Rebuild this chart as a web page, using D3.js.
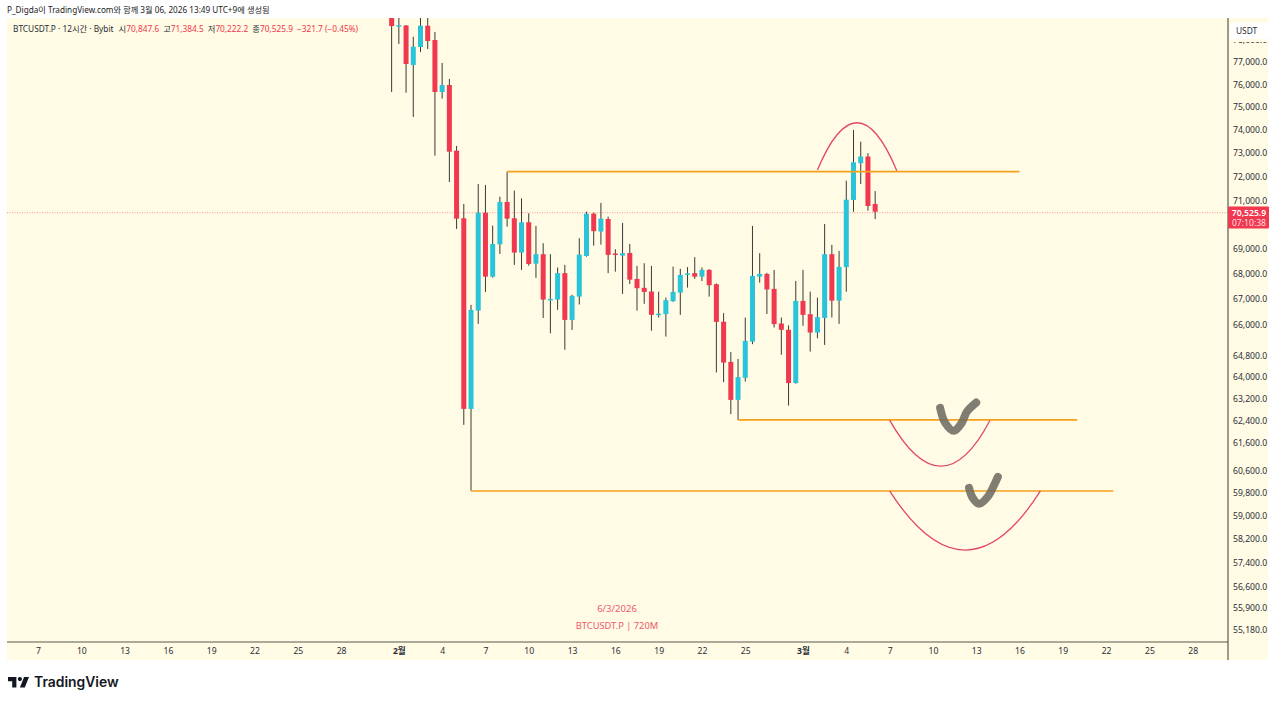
<!DOCTYPE html>
<html>
<head>
<meta charset="utf-8">
<script src="https://cdn.jsdelivr.net/npm/d3@7"></script>
<style>
  html, body { margin: 0; padding: 0; background: #fff; overflow: hidden; }
  text { font-family: "Noto Sans", "Noto Sans CJK KR", sans-serif; }
</style>
</head>
<body>
<script>
// candles, 12h bars, index 0 = the "7" tick at the left edge
var firstBar = 49;
var opens = [79100,78640,78667,76866,77680,78658,78000,75656,75968,73097,70256,62822,66552,70486,67890,69192,70930,70256,68855,70091,68410,68790,66980,66982,68030,66188,67100,68720,70445,69710,70225,68820,68735,68840,67800,67445,67300,66400,66412,66918,67257,67975,68030,67890,68160,67590,66120,64578,63155,63977,65350,67890,68000,67405,66050,65805,63780,66930,66412,65700,66265,68790,66940,68270,71013,72560,72845,70847.6];
var highs = [79400,79500,78690,78150,79300,79300,78370,76955,76236,73300,70847,66775,71684,71642,69953,71150,72204,71405,71084,70462,69940,69233,68790,68255,68360,67170,69436,70527,70486,70888,70320,68990,70062,69205,68320,68425,68320,67295,67060,68290,68200,68270,68670,68255,68190,67620,66450,64950,64690,66280,69940,68830,68040,68160,66280,65975,67720,68160,67295,67060,70020,69165,68925,71822,73991,73484,72985,71384.5];
var lows = [75660,77820,75625,74556,77450,77590,72882,75362,71767,69816,62236,59880,66035,67285,67850,68800,69912,68360,68160,68330,67840,66265,65670,66580,65040,65800,66790,68690,69135,69177,68030,68090,67207,67600,66550,66815,65770,66280,65545,66891,66385,67455,67800,67710,67100,64180,63814,62630,62420,63836,65253,67650,66420,65895,64850,62945,63760,65960,64970,65480,65225,66280,66035,67295,70527,71684,70570,70222.2];
var closes = [78640,78680,76910,77693,78658,77954,75656,75968,73054,70239,62822,66579,70486,67890,69205,70930,70239,68855,70091,68398,68790,66982,67010,68030,66188,67130,68775,70445,69725,70239,68762,68762,68830,67770,67430,67285,66385,66430,66958,67285,67960,68020,67890,68160,67550,66111,64552,63155,64003,65378,67920,68000,67380,66025,65805,63780,66930,66385,65700,66295,68790,66940,68280,71025,72600,72845,70764,70525.9];

// axis ticks
var priceTicks = [78000,77000,76000,75000,74000,73000,72000,71000,69000,68000,67000,66000,64800,64000,63200,62400,61600,60600,59800,59000,58200,57400,56600,55900,55180];
var timeTickBars = [0,6,12,18,24,30,36,42,50,56,62,68,74,80,86,92,98,106,112,118,124,130,136,142,148,154,160];
var timeTickLabels = ["7","10","13","16","19","22","25","28","2월","4","7","10","13","16","19","22","25","3월","4","7","10","13","16","19","22","25","28"];

// drawings: [start bar, end bar, price]
var levelLines = [[65,136,72205],[97,144,62420],[60,149,59870]];
// arcs: start, peak, end as [bar, price]
var arcTop = [[108,72273],[113.5,74305],[119,72243]];
var arcMid = [[118,62410],[125.1,60745],[131.9,62395]];
var arcLow = [[118,59870],[128.5,57830],[138.9,59870]];
// hand drawn ticks
var checkOne = [[125,62860],[125.7,62310],[126.9,62020],[128,62310],[128.7,62715],[130,63055]];
var checkTwo = [[129,59980],[129.5,59630],[130.4,59420],[131.6,59665],[132.5,60085],[133,60365]];

var lastPrice = 70525.9;
var bgColor = "#fffbe4", upColor = "#29c4da", downColor = "#f0384f";
var orange = "#f5a11c", arcColor = "#e2476a", textColor = "#2a2e39";

var svg = d3.select("body").append("svg")
    .attr("width", 1280)
    .attr("height", 703);

// panel
svg.append("rect").attr("x", 7).attr("y", 18).attr("width", 1261).attr("height", 642).attr("fill", bgColor);

svg.append("clipPath").attr("id", "plot").append("rect")
    .attr("x", 7).attr("y", 18).attr("width", 1221).attr("height", 624);

//scales
var x = d3.scaleLinear().domain([0, 160]).range([38, 1192.7]);
var y = d3.scaleLog().domain([55180, 77000]).range([630, 62]);

var plot = svg.append("g").attr("clip-path", "url(#plot)");

// last price dotted line
plot.append("line")
    .attr("x1", 7).attr("x2", 1228)
    .attr("y1", y(lastPrice) + 1).attr("y2", y(lastPrice) + 1)
    .attr("stroke", "#f0384f").attr("stroke-opacity", 0.4)
    .attr("stroke-width", 1.2)
    .attr("stroke-dasharray", "1 1.5");

var bars = plot.selectAll("g.bar").data(opens).enter().append("g").attr("class", "bar");

bars.append("line")
    .attr("x1", function(d, i) { return x(firstBar + i); })
    .attr("x2", function(d, i) { return x(firstBar + i); })
    .attr("y1", function(d, i) { return y(highs[i]); })
    .attr("y2", function(d, i) { return y(lows[i]); })
    .attr("stroke", "#3a3a36")
    .attr("stroke-width", 1);

bars.append("rect")
    .attr("x", function(d, i) { return x(firstBar + i) - 2.5; })
    .attr("width", 5)
    .attr("y", function(d, i) { return y(Math.max(d, closes[i])); })
    .attr("height", function(d, i) { return Math.max(1.5, Math.abs(y(d) - y(closes[i]))); })
    .attr("fill", function(d, i) { return closes[i] >= d ? upColor : downColor; });

// orange levels
plot.selectAll("line.level").data(levelLines).enter().append("line")
    .attr("class", "level")
    .attr("x1", function(d) { return x(d[0]); })
    .attr("x2", function(d) { return x(d[1]); })
    .attr("y1", function(d) { return y(d[2]); })
    .attr("y2", function(d) { return y(d[2]); })
    .attr("stroke", orange)
    .attr("stroke-width", 1.6);

// parabola through start, peak, end
function arcPath(a) {
    var x0 = x(a[0][0]), y0 = y(a[0][1]), xp = x(a[1][0]), yp = y(a[1][1]), x2 = x(a[2][0]), y2 = y(a[2][1]);
    var p = d3.path();
    p.moveTo(x0, y0);
    p.quadraticCurveTo(2 * xp - (x0 + x2) / 2, 2 * yp - (y0 + y2) / 2, x2, y2);
    return p.toString();
}

plot.selectAll("path.arc").data([arcTop, arcMid, arcLow]).enter().append("path")
    .attr("class", "arc")
    .attr("d", arcPath)
    .attr("fill", "none")
    .attr("stroke", arcColor)
    .attr("stroke-width", 1.3);

plot.selectAll("path.check").data([checkOne, checkTwo]).enter().append("path")
    .attr("class", "check")
    .attr("d", d3.line().x(function(d) { return x(d[0]); }).y(function(d) { return y(d[1]); }).curve(d3.curveCatmullRom))
    .attr("fill", "none")
    .attr("stroke", "#6e6c62")
    .attr("stroke-opacity", 0.88)
    .attr("stroke-width", 8)
    .attr("stroke-linecap", "round")
    .attr("stroke-linejoin", "round");

// watermark
svg.append("text").attr("x", 617).attr("y", 612).attr("text-anchor", "middle")
    .attr("font-size", 9.5).attr("fill", "#ee5a6c").text("6/3/2026");
svg.append("text").attr("x", 617).attr("y", 629).attr("text-anchor", "middle")
    .attr("font-size", 9.3).attr("fill", "#ee5a6c").text("BTCUSDT.P | 720M");

// price axis
var priceAxis = svg.append("g")
    .attr("transform", "translate(1228,0)")
    .call(d3.axisRight(y).tickValues(priceTicks).tickFormat(d3.format(",.1f")).tickSize(0).tickPadding(5));
priceAxis.select(".domain").remove();
priceAxis.selectAll("text").attr("font-size", 8.6).attr("fill", textColor).style("font-family", '"Noto Sans", sans-serif');

// time axis
var timeAxis = svg.append("g")
    .attr("transform", "translate(0,642)")
    .call(d3.axisBottom(x).tickValues(timeTickBars)
        .tickFormat(function(d, i) { return timeTickLabels[i]; })
        .tickSize(0).tickPadding(6));
timeAxis.select(".domain").remove();
timeAxis.selectAll("text")
    .attr("font-size", 8.6)
    .attr("fill", textColor)
    .attr("font-weight", function(d, i) { return /월/.test(timeTickLabels[i]) ? 700 : 400; })
    .style("font-family", '"Noto Sans", "Noto Sans CJK KR", sans-serif');

// frame lines
svg.append("line").attr("x1", 7).attr("x2", 1228).attr("y1", 642).attr("y2", 642).attr("stroke", "#8f8f80").attr("stroke-width", 1.3);
svg.append("line").attr("x1", 1228).attr("x2", 1228).attr("y1", 18).attr("y2", 660).attr("stroke", "#3a3a36").attr("stroke-width", 1);

// USDT box, sits over the top tick like in the app
svg.append("rect").attr("x", 1230).attr("y", 39).attr("width", 38).attr("height", 3).attr("fill", bgColor);
svg.append("rect").attr("x", 1230).attr("y", 23).attr("width", 39).attr("height", 16).attr("rx", 2).attr("fill", "#fff");
svg.append("text").attr("x", 1236).attr("y", 33.5).attr("font-size", 8.4).attr("fill", textColor).text("USDT");

// last price tag
svg.append("rect").attr("x", 1228).attr("y", 206.5).attr("width", 41).attr("height", 22).attr("rx", 1).attr("fill", "#f0384f");
svg.append("text").attr("x", 1249).attr("y", 215.5).attr("text-anchor", "middle").attr("font-size", 8.6).attr("font-weight", 600).attr("fill", "#fff").text(d3.format(",.1f")(lastPrice));
svg.append("text").attr("x", 1249).attr("y", 225.5).attr("text-anchor", "middle").attr("font-size", 8.6).attr("fill", "#ffdfe3").text("07:10:38");

// header
svg.append("text").attr("x", 7).attr("y", 13).attr("font-size", 8.2).attr("fill", "#222")
    .text("P_Digda이 TradingView.com와 함께 3월 06, 2026 13:49 UTC+9에 생성됨");

var legend = svg.append("text").attr("x", 13).attr("y", 32).attr("font-size", 8.3).attr("fill", textColor);
legend.append("tspan").text("BTCUSDT.P · 12시간 · Bybit");
var legendParts = [["시", "70,847.6"], ["고", "71,384.5"], ["저", "70,222.2"], ["종", "70,525.9"]];
legendParts.forEach(function(p, i) {
    legend.append("tspan").attr("dx", i == 0 ? 5 : 4).text(p[0]);
    legend.append("tspan").attr("fill", "#f0384f").text(p[1]);
});
legend.append("tspan").attr("dx", 4).attr("fill", "#f0384f").text("−321.7 (−0.45%)");

// logo
svg.append("path")
    .attr("transform", "translate(6.6,672.8) scale(0.7)")
    .attr("fill", "#131722")
    .attr("d", "M14 6H2v6h6v9h6V6Zm12 15h-7l6-15h7l-6 15Zm-7-9a3 3 0 1 0 0-6 3 3 0 0 0 0 6Z");
svg.append("text").attr("x", 34).attr("y", 686.5).attr("font-size", 13.9).attr("font-weight", 600)
    .attr("fill", "#131722").style("font-family", "Inter, sans-serif").text("TradingView");
</script>
</body>
</html>
